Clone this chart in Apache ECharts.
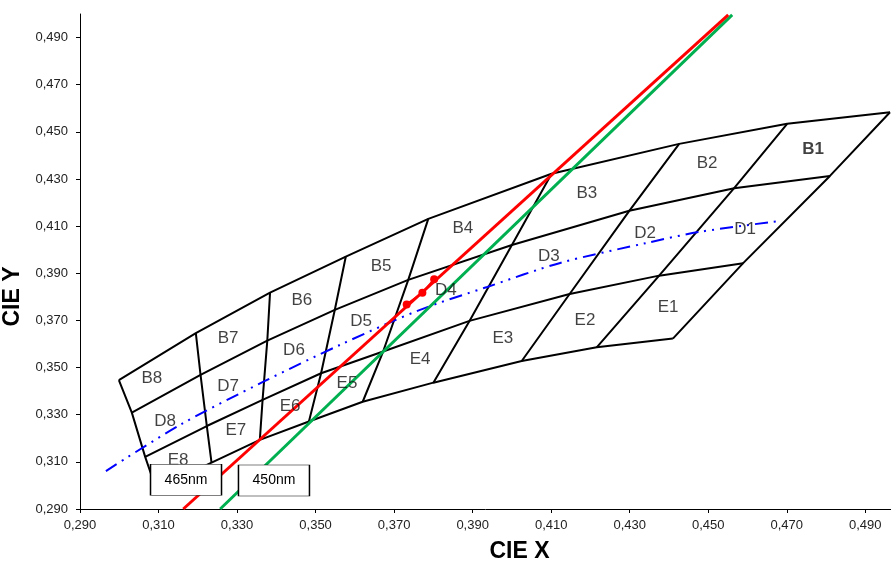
<!DOCTYPE html>
<html><head><meta charset="utf-8">
<script src="https://cdn.jsdelivr.net/npm/echarts@6/dist/echarts.min.js"></script>
<style>html,body{margin:0;padding:0;background:#fff}#c{width:891px;height:562px}</style>
</head><body><div id="c"></div>
<script>
// Axis tick labels
const xTicks = [0.29, 0.31, 0.33, 0.35, 0.37, 0.39, 0.41, 0.43, 0.45, 0.47, 0.49];
const yTicks = [0.29, 0.31, 0.33, 0.35, 0.37, 0.39, 0.41, 0.43, 0.45, 0.47, 0.49];

// Bin boundary vertices, columns from bin 8 (left) to bin 1 (right)
const rowBTop = [[0.2999,0.3447],[0.3195,0.3646],[0.3384,0.3818],[0.3577,0.3971],[0.3787,0.4131],[0.4101,0.4322],[0.4426,0.4449],[0.4701,0.4534],[0.4963,0.4583]];
const rowBD   = [[0.3032,0.3309],[0.3207,0.3469],[0.3377,0.3614],[0.3549,0.3745],[0.3736,0.3872],[0.4000,0.4020],[0.4299,0.4165],[0.4566,0.4261],[0.4810,0.4313]];
const rowDE   = [[0.3066,0.3121],[0.3223,0.3252],[0.3365,0.3363],[0.3514,0.3476],[0.3672,0.3568],[0.3892,0.3698],[0.4147,0.3812],[0.4375,0.3890],[0.4589,0.3943]];
const rowEBot = [[0.3094,0.2985],[0.3235,0.3097],[0.3358,0.3193],[0.3483,0.3271],[0.3620,0.3355],[0.3800,0.3436],[0.4025,0.3528],[0.4216,0.3586],[0.4410,0.3623]];

// Bin names and anchor points
const binNames = ['B8','D8','E8','B7','D7','E7','B6','D6','E6','B5','D5','E5','B4','D4','E4','B3','D3','E3','B2','D2','E2','B1','D1','E1'];
const binX = [0.3083,0.3117,0.3150,0.3277,0.3277,0.3297,0.3465,0.3445,0.3435,0.3667,0.3616,0.3580,0.3875,0.3832,0.3766,0.4191,0.4094,0.3977,0.4497,0.4339,0.4186,0.4767,0.4594,0.4398];
const binY = [0.3456,0.3273,0.3108,0.3626,0.3422,0.3235,0.3787,0.3575,0.3337,0.3931,0.3698,0.3435,0.4092,0.3829,0.3537,0.4241,0.3974,0.3626,0.4365,0.4068,0.3702,0.4428,0.4088,0.3757];

// Planckian locus (blue dash-dot)
const locusX = [0.2966,0.3155,0.3366,0.3562,0.3766,0.3937,0.4123,0.4344,0.4479,0.4683];
const locusY = [0.3061,0.3257,0.3439,0.3596,0.3745,0.3842,0.3944,0.4029,0.4076,0.4122];

// Dominant wavelength lines
const line465X = [0.3163, 0.4551];
const line465Y = [0.2900, 0.4996];
const line450X = [0.3257, 0.4561];
const line450Y = [0.2900, 0.4996];

// Measured points
const measX = [0.3732, 0.3772, 0.3802];
const measY = [0.3768, 0.3817, 0.3875];

// Wavelength tags
const tagNames = ['465nm', '450nm'];
const tagX = [0.3170, 0.3394];
const tagY = [0.3024, 0.3021];

const zip = (xs, ys) => xs.map((x, i) => [x, ys[i]]);
const rows = [rowBTop, rowBD, rowDE, rowEBot];
const series = [];
const blackLine = d => ({type:'line', data:d, showSymbol:false, symbol:'none', silent:true, z:2,
  lineStyle:{color:'#000', width:2}});
rows.forEach(r => series.push(blackLine(r)));
for (let c = 0; c < rowBTop.length; c++) series.push(blackLine(rows.map(r => r[c])));

series.push({type:'line', data:zip(locusX, locusY), smooth:0.3, symbol:'none', z:3,
  lineStyle:{color:'#0000FF', width:2, type:[13,6,2,6,2,6]}});
series.push({type:'line', data:zip(line450X, line450Y), symbol:'none', z:3,
  lineStyle:{color:'#00B050', width:3}});
series.push({type:'line', data:zip(line465X, line465Y), symbol:'none', z:4,
  lineStyle:{color:'#FF0000', width:3}});
series.push({type:'line', data:zip(measX, measY), symbol:'circle', symbolSize:8, showSymbol:true, z:4,
  itemStyle:{color:'#FF0000'}, lineStyle:{color:'#FF0000', width:2}});
series.push({type:'scatter', symbolSize:0, z:5,
  data: binNames.map((n, i) => ({name:n, value:[binX[i], binY[i]],
    label: n === 'B1' ? {fontWeight:'bold'} : {}})),
  label:{show:true, position:'inside', formatter:p => p.name, fontSize:17, color:'#111',
    fontFamily:'Liberation Sans'}});
series.push({type:'scatter', symbol:'rect', symbolSize:[71,31], z:10,
  itemStyle:{color:'#fff', borderColor:'#000', borderWidth:1, opacity:1},
  data: tagNames.map((n, i) => ({name:n, value:[tagX[i], tagY[i]]})),
  label:{show:true, position:'inside', formatter:p => p.name, fontSize:14, color:'#000',
    fontFamily:'Liberation Sans'}});

const fmt = v => v.toFixed(3).replace('.', ',');
const chart = echarts.init(document.getElementById('c'), null, {renderer:'canvas'});
chart.setOption({
  animation:false,
  backgroundColor:'#fff',
  grid:{left:80, top:14, width:811, height:495, containLabel:false, outerBoundsMode:'none'},
  xAxis:{type:'value', min:0.29, max:0.49655, splitLine:{show:false},
    axisLine:{lineStyle:{color:'#000', width:1}},
    axisTick:{show:true, customValues:xTicks, length:4, lineStyle:{color:'#000'}},
    axisLabel:{customValues:xTicks, formatter:fmt, fontSize:13, color:'#222', margin:10,
      fontFamily:'Liberation Sans'},
    name:'CIE X', nameLocation:'middle', nameGap:31,
    nameTextStyle:{fontSize:23, fontWeight:'bold', color:'#000', fontFamily:'Liberation Sans',
      padding:[0,0,0,68]}},
  yAxis:{type:'value', min:0.29, max:0.50, splitLine:{show:false},
    axisLine:{show:true, lineStyle:{color:'#000', width:1}},
    axisTick:{show:true, customValues:yTicks, length:4, lineStyle:{color:'#000'}},
    axisLabel:{customValues:yTicks, formatter:fmt, fontSize:13, color:'#222', margin:12,
      fontFamily:'Liberation Sans'},
    name:'CIE Y', nameLocation:'middle', nameGap:37, nameRotate:90,
    nameTextStyle:{fontSize:23, fontWeight:'bold', color:'#000', fontFamily:'Liberation Sans',
      padding:[0,70,0,0]}},
  series:series
});
</script></body></html>
